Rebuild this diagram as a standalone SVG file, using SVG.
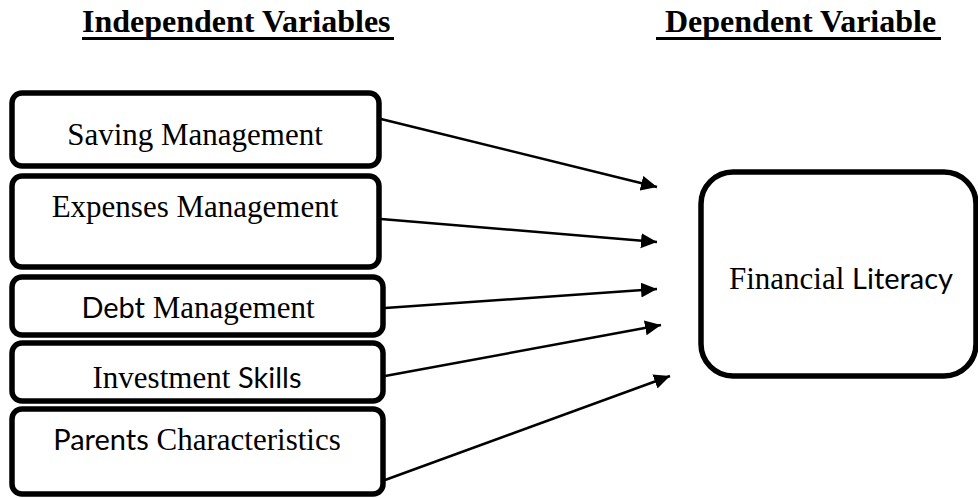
<svg xmlns="http://www.w3.org/2000/svg" width="978" height="498" viewBox="0 0 978 498">
<style>
.box{fill:#fff;stroke:#000;stroke-width:5.5}
.t{font-family:"Liberation Serif","Times New Roman",serif;font-size:31px;fill:#000;text-anchor:middle}
.s{font-family:Lato,"Liberation Sans",sans-serif;font-size:29px}
.h{font-family:"Liberation Serif","Times New Roman",serif;font-size:32px;font-weight:bold;fill:#000}
.c{stroke:#000;stroke-width:2.5;fill:none;marker-end:url(#ah)}
</style>
<defs>
<marker id="ah" markerUnits="userSpaceOnUse" markerWidth="18" markerHeight="16" refX="16" refY="7.5" orient="auto">
<path d="M0,0 L16,7.5 L0,15 Z" fill="#000"/>
</marker>
</defs>
<rect width="978" height="498" fill="#fff"/>
<g id="headers">
<text class="h" x="82" y="32">Independent Variables</text>
<rect x="82" y="37" width="312" height="3" fill="#000"/>
<text class="h" x="657" y="32" xml:space="preserve"> Dependent Variable</text>
<rect x="656" y="37" width="285" height="3" fill="#000"/>
</g>
<g id="saving">
<rect class="box" x="12" y="93" width="367" height="73" rx="10"/>
<text class="t" x="195" y="145">Saving Management</text>
</g>
<g id="expenses">
<rect class="box" x="12" y="176" width="367" height="91" rx="10"/>
<text class="t" x="195" y="217">Expenses Management</text>
</g>
<g id="debt">
<rect class="box" x="12" y="277" width="371" height="58" rx="10"/>
<text class="t" x="198" y="318"><tspan class="s">Debt</tspan> Management</text>
</g>
<g id="investment">
<rect class="box" x="12" y="343" width="371" height="58" rx="10"/>
<text class="t" x="197" y="388">Investment <tspan class="s">Skills</tspan></text>
</g>
<g id="parents">
<rect class="box" x="12" y="409" width="371" height="85" rx="10"/>
<text class="t" x="197" y="450"><tspan class="s">Parents</tspan> Characteristics</text>
</g>
<g id="literacy">
<rect class="box" x="701" y="172" width="275" height="204" rx="32"/>
<text class="t" x="841" y="289">Financial <tspan class="s">Literacy</tspan></text>
</g>
<g id="connectors">
<line class="c" x1="381" y1="119" x2="657" y2="187"/>
<line class="c" x1="381" y1="219" x2="657" y2="242"/>
<line class="c" x1="385" y1="308" x2="657" y2="289"/>
<line class="c" x1="385" y1="376" x2="661" y2="325"/>
<line class="c" x1="385" y1="480" x2="670" y2="376"/>
</g>
</svg>
